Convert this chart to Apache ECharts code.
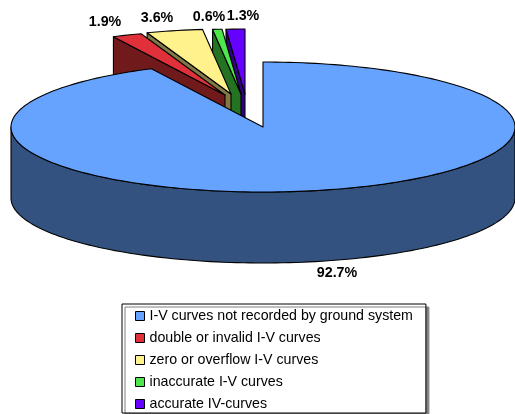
<!DOCTYPE html>
<html><head><meta charset="utf-8">
<style>html,body{margin:0;padding:0;background:#fff}#c{width:515px;height:414px}</style>
<script src="https://cdn.jsdelivr.net/npm/echarts@6/dist/echarts.min.js"></script>
</head><body><div id="c"></div>
<script>
const categories = ['I-V curves not recorded by ground system','double or invalid I-V curves','zero or overflow I-V curves','inaccurate I-V curves','accurate IV-curves'];
const values = [92.7,1.9,3.6,0.6,1.3];
const topColors = ['#66A3FF','#E0303A','#FFF28C','#4DE64D','#6600FF'];
const sideColors = ['#335280','#701A1C','#807946','#237323','#330080'];

// layout
const cx=263, cy=127, rx=252, ry=65, depth=71;
const shift=[[0,0],[-38,-32],[-32,-33],[-22,-33],[-18,-33]];
const labelPos=[[105,22],[157,18],[209,17],[243,16]];
const bigLabelPos=[337,273];
const scaleAngle=360/100;
function angles(i){
  let s=0; for(let k=0;k<i;k++) s+=values[k];
  let e=s+values[i];
  if(i===values.length-1) e=100;
  return [s*scaleAngle,Math.min(e,100)*scaleAngle];
}
function pt(a,ox,oy,d){const r=a*Math.PI/180;return [cx+ox+rx*Math.sin(r),cy+oy-ry*Math.cos(r)+(d||0)];}
function arc(a0,a1,ox,oy,d){const n=Math.max(2,Math.ceil(Math.abs(a1-a0)/1.5));const p=[];for(let j=0;j<=n;j++)p.push(pt(a0+(a1-a0)*j/n,ox,oy,d));return p;}
const lineStyle={stroke:'#000',lineWidth:1.1,lineJoin:'round'};
function sliceRenderer(i){
  return function(params,api){
    const [a0,a1]=angles(i);
    const [ox,oy]=shift[i];
    const apex=[cx+ox,cy+oy];
    const kids=[];
    if(i===0){
      const lo=Math.max(90,a0), hi=Math.min(270,a1);
      const front=arc(lo,hi,ox,oy,0).concat(arc(hi,lo,ox,oy,depth));
      kids.push({type:'polygon',shape:{points:front},style:Object.assign({fill:sideColors[i]},lineStyle)});
    } else {
      const o=pt(a0,ox,oy,0);
      kids.push({type:'polygon',shape:{points:[o,apex,[apex[0],apex[1]+depth],[o[0],o[1]+depth]]},style:Object.assign({fill:sideColors[i]},lineStyle)});
    }
    kids.push({type:'polygon',shape:{points:[apex].concat(arc(a0,a1,ox,oy,0))},style:Object.assign({fill:topColors[i]},lineStyle)});
    return {type:'group',children:kids};
  };
}
function labelRenderer(i){
  return function(params,api){
    const p=i===0?bigLabelPos:labelPos[i-1];
    return {type:'text',z2:100,style:{x:p[0],y:p[1],text:api.value(0).toFixed(1)+'%',align:'center',verticalAlign:'middle',fill:'#000',font:'bold 14.3px "Liberation Sans", Arial, sans-serif'}};
  };
}
// paint order: far slices first, the large slice last
const order=[4,3,2,1,0];
const series=order.map(i=>({
  type:'custom',id:'s'+i,name:categories[i],coordinateSystem:'none',silent:true,animation:false,
  itemStyle:{color:topColors[i]},
  data:[[values[i]]],
  renderItem:sliceRenderer(i),z:2
}));
categories.forEach((c,i)=>series.push({
  type:'custom',id:'L'+i,name:'label'+i,coordinateSystem:'none',silent:true,animation:false,
  data:[[values[i]]],renderItem:labelRenderer(i),z:5
}));
const chart=echarts.init(document.getElementById('c'),null,{renderer:'canvas'});
chart.setOption({
  animation:false,
  backgroundColor:'#fff',
  legend:{
    data:categories,orient:'vertical',left:122,top:304,width:305,height:108,
    padding:[5,13,2,13],itemWidth:9,itemHeight:9,itemGap:8,icon:'rect',
    backgroundColor:'#fff',borderColor:'#000',borderWidth:1,
    shadowColor:'#808080',shadowOffsetX:3,shadowOffsetY:3,shadowBlur:0,
    selectedMode:false,
    itemStyle:{borderColor:'#000',borderWidth:1},
    textStyle:{color:'#000',fontSize:14.2,fontFamily:'"Liberation Sans", Arial, sans-serif',padding:[0,0,0,0],lineHeight:13.5}
  },
  series
});
</script></body></html>
